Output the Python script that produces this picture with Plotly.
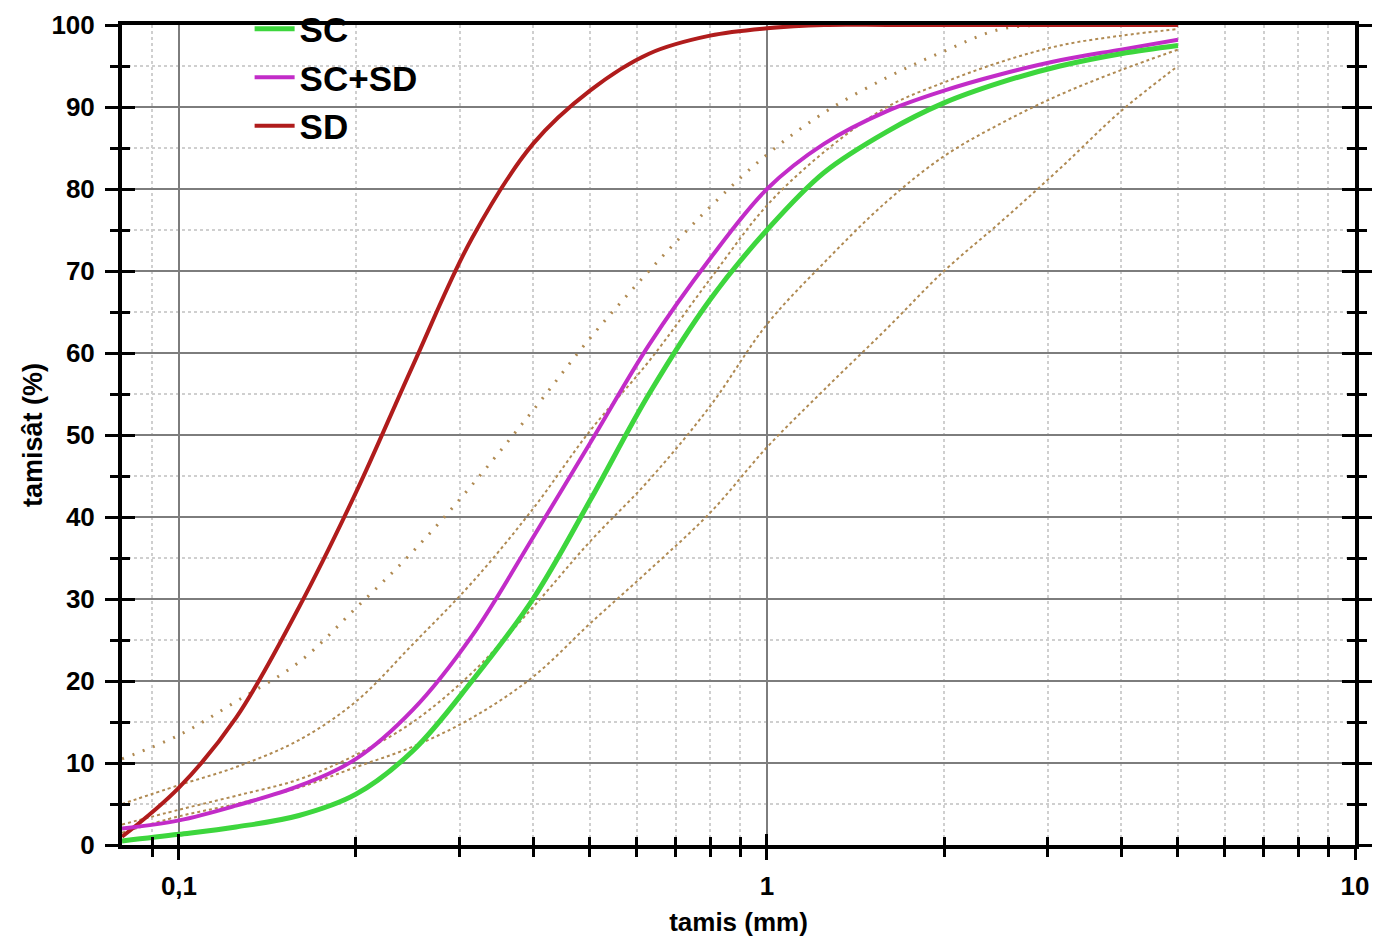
import plotly.graph_objects as go

# Sieve sizes (mm)
sieves = [0.08, 0.1, 0.125, 0.16, 0.2, 0.25, 0.315, 0.4, 0.5, 0.63, 0.8, 1.0,
          1.25, 1.6, 2.0, 2.5, 3.15, 4.0, 5.0]

# Passing (%) for the three sands
sc = [0.5, 1.3, 2.2, 3.6, 6.2, 11.5, 20, 30, 42, 55, 66.5, 75, 82, 87, 90.5, 93, 95, 96.5, 97.5]
sc_sd = [2, 3, 4.8, 7.2, 10.5, 16.5, 25.5, 37.5, 49, 61, 71.5, 80, 85.5, 89.5, 92, 94, 95.7, 97, 98.2]
sd = [1, 7, 15.5, 29, 43, 58.5, 74, 85.5, 92, 96.5, 98.7, 99.6, 100, 100, 100, 100, 100, 100, 100]

# Grading envelope limits (dotted)
lim_a = [10.5, 13.4, 17.5, 22.3, 28.9, 35.8, 43.9, 53, 61.8, 70, 77.8, 84.2, 89.3, 93.6, 96.8, 99.5, 100, 100, 100]
lim_b = [5, 7.3, 9.5, 12.8, 17.5, 24.5, 32, 41, 50.5, 59, 69, 78, 84.5, 90, 93, 95.5, 97.5, 98.7, 99.5]
lim_c = [2.5, 4.3, 6, 8, 11, 15, 21, 29, 37, 44.5, 53.5, 63.5, 71, 78.5, 84, 88, 91.5, 94.5, 97]
lim_d = [1.5, 3.5, 5, 7, 9.5, 12, 15.5, 20.5, 27, 33.5, 40.5, 48.5, 55.5, 63, 70, 76, 82.5, 89.5, 95]

x_tickvals = [0.1, 1, 10]
x_ticktext = ["0,1", "1", "10"]
x_minor = [0.09, 0.2, 0.3, 0.4, 0.5, 0.6, 0.7, 0.8, 0.9,
           2, 3, 4, 5, 6, 7, 8, 9]
y_tickvals = [0, 10, 20, 30, 40, 50, 60, 70, 80, 90, 100]
y_minor = [5, 15, 25, 35, 45, 55, 65, 75, 85, 95]

FONT = "Liberation Sans, Arial, sans-serif"
DOT_COLOR = "#b08a52"

fig = go.Figure()

for vals, w, dash in [(lim_a, 3, "2px,9px"), (lim_b, 2, "dot"),
                      (lim_c, 2, "dot"), (lim_d, 2, "dot")]:
    fig.add_trace(go.Scatter(x=sieves, y=vals, mode="lines",
                             line=dict(color=DOT_COLOR, width=w, dash=dash, shape="spline"),
                             showlegend=False, hoverinfo="skip"))

fig.add_trace(go.Scatter(x=sieves, y=sd, mode="lines", name="SD", legendrank=3,
                         line=dict(color="#b01c1c", width=4, shape="spline")))
fig.add_trace(go.Scatter(x=sieves, y=sc_sd, mode="lines", name="SC+SD", legendrank=2,
                         line=dict(color="#c22cc8", width=4, shape="spline")))
fig.add_trace(go.Scatter(x=sieves, y=sc, mode="lines", name="SC", legendrank=1,
                         line=dict(color="#3dd63d", width=5, shape="spline")))

# invisible trace on overlay axes (for crossing tick marks)
fig.add_trace(go.Scatter(x=[0.1], y=[0], xaxis="x2", yaxis="y2", mode="markers",
                         marker=dict(opacity=0), showlegend=False, hoverinfo="skip"))

xr = [-1.0969, 1.0]
common_x = dict(type="log", range=xr, tickmode="array", tickvals=x_tickvals, automargin=False)
common_y = dict(range=[0, 100], tickmode="array", tickvals=y_tickvals, automargin=False)

fig.update_layout(
    width=1368, height=932,
    paper_bgcolor="white", plot_bgcolor="white",
    margin=dict(l=114, r=21, t=17, b=95, autoexpand=False),
    font=dict(family=FONT, color="black"),
    showlegend=True,
    legend=dict(x=0.1035, y=1.031, xanchor="left", yanchor="top",
                bgcolor="rgba(0,0,0,0)", font=dict(size=35, family=FONT, weight="bold"),
                traceorder="normal", itemwidth=40),
    xaxis=dict(**common_x, ticktext=x_ticktext,
               showline=True, linecolor="black", linewidth=4, mirror=True,
               ticks="outside", ticklen=11, tickwidth=3, tickcolor="black",
               ticklabelstandoff=4,
               tickfont=dict(size=26, family=FONT, weight="bold"),
               showgrid=True, gridcolor="#7d7d7d", gridwidth=1.5,
               minor=dict(tickmode="array", tickvals=x_minor, ticks="outside", ticklen=8,
                          tickwidth=2.5, tickcolor="black", showgrid=True,
                          gridcolor="#cfcfcf", griddash="dot", gridwidth=1.5),
               title=dict(text="<b>tamis (mm)</b>", font=dict(size=26, family=FONT), standoff=14),
               zeroline=False),
    yaxis=dict(**common_y,
               showline=True, linecolor="black", linewidth=4, mirror="ticks",
               ticks="outside", ticklen=13, tickwidth=3, tickcolor="black",
               ticklabelstandoff=5,
               tickfont=dict(size=26, family=FONT, weight="bold"),
               showgrid=True, gridcolor="#7d7d7d", gridwidth=1.5,
               minor=dict(tickmode="array", tickvals=y_minor, ticks="outside", ticklen=8,
                          tickwidth=2.5, tickcolor="black", showgrid=True,
                          gridcolor="#cfcfcf", griddash="dot", gridwidth=1.5),
               title=dict(text="<b>tamisât (%)</b>", font=dict(size=27, family=FONT), standoff=2),
               zeroline=False),
    xaxis2=dict(**common_x, overlaying="x", anchor="y2", side="bottom",
                showticklabels=False, showgrid=False, showline=False, zeroline=False,
                ticks="inside", ticklen=11, tickwidth=3, tickcolor="black",
                minor=dict(tickmode="array", tickvals=x_minor, ticks="inside", ticklen=8,
                           tickwidth=2.5, tickcolor="black", showgrid=False)),
    yaxis2=dict(**common_y, overlaying="y", anchor="x2", side="left", mirror="ticks",
                showticklabels=False, showgrid=False, showline=False, zeroline=False,
                ticks="inside", ticklen=13, tickwidth=3, tickcolor="black",
                minor=dict(tickmode="array", tickvals=y_minor, ticks="inside", ticklen=8,
                           tickwidth=2.5, tickcolor="black", showgrid=False)),
)

fig.write_html("out.html")
